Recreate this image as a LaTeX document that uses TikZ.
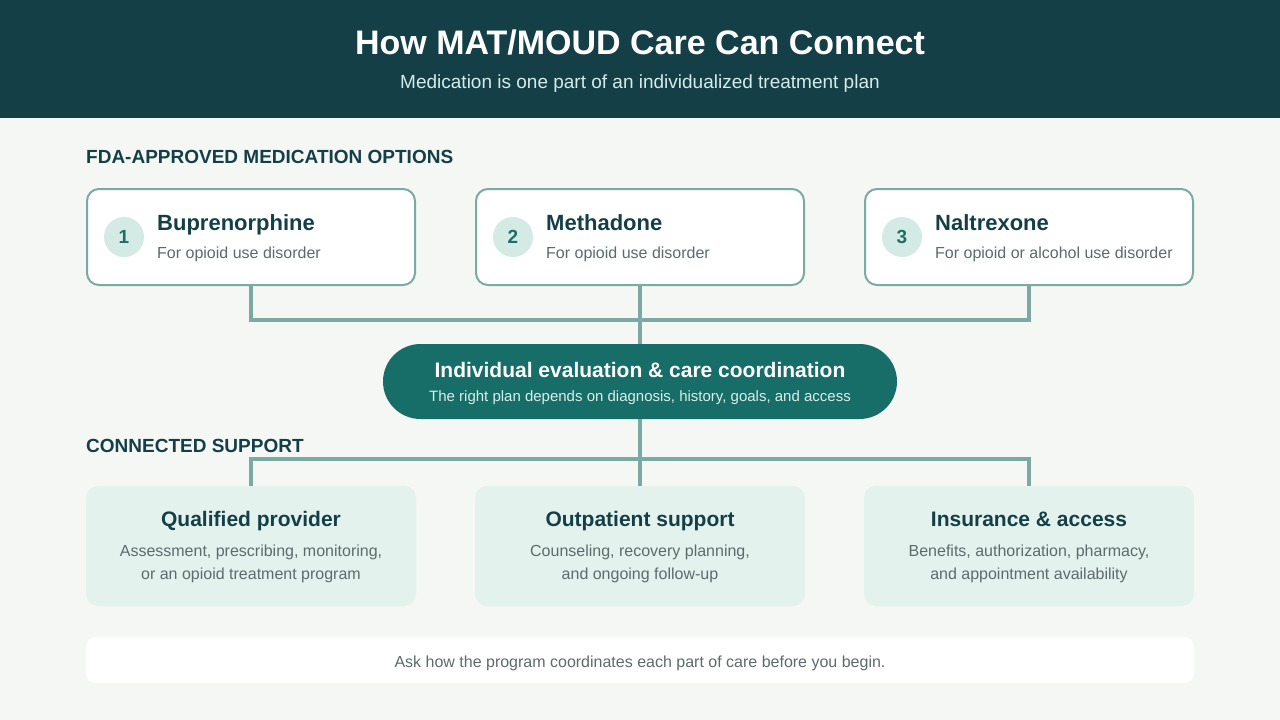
\documentclass[tikz,border=0pt]{standalone}
\usepackage{fontspec}
\setmainfont{Liberation Sans}
\usetikzlibrary{positioning}

\definecolor{headbg}{HTML}{143F47}
\definecolor{pagebg}{HTML}{F4F7F4}
\definecolor{linkcol}{HTML}{7BAAA3}
\definecolor{pillcol}{HTML}{176D68}
\definecolor{dotfill}{HTML}{D4EAE5}
\definecolor{numcol}{HTML}{1E6E68}
\definecolor{darktext}{HTML}{143F47}
\definecolor{graytext}{HTML}{5E6B6B}
\definecolor{suppfill}{HTML}{E4F2EE}
\definecolor{headsub}{HTML}{D5EBE8}
\definecolor{pillsub}{HTML}{D8EEEA}

\tikzset{
  medbox/.style={draw=linkcol, line width=2pt, fill=white, rounded corners=12pt,
    minimum width=328pt, minimum height=96pt, inner sep=0pt},
  suppbox/.style={fill=suppfill, rounded corners=12pt,
    minimum width=330pt, minimum height=120pt, inner sep=0pt},
  numdot/.style={circle, fill=dotfill, minimum size=40pt, inner sep=0pt,
    text=numcol, font=\fontsize{19}{22}\selectfont\bfseries},
  medname/.style={anchor=base west, inner sep=0pt, text=darktext,
    font=\fontsize{22}{26}\selectfont\bfseries},
  medsub/.style={anchor=base west, inner sep=0pt, text=graytext,
    font=\fontsize{16}{19}\selectfont},
  supptitle/.style={anchor=base, inner sep=0pt, text=darktext,
    font=\fontsize{21}{24}\selectfont\bfseries},
  supptext/.style={anchor=base, inner sep=0pt, text=graytext, align=center,
    font=\fontsize{16}{23}\selectfont},
  sectlabel/.style={anchor=base west, inner sep=0pt, text=darktext,
    font=\fontsize{19}{22}\selectfont\bfseries},
  link/.style={draw=linkcol, line width=3.5pt}
}

\begin{document}
\begin{tikzpicture}[x=1pt,y=-1pt]
\useasboundingbox (0,0) rectangle (1280,720);
\fill [pagebg] (0,0) rectangle (1280,720);

% header
\fill [headbg] (0,0) rectangle (1280,118);
\node (title) [anchor=base, inner sep=0pt, text=white, font=\fontsize{34}{40}\selectfont\bfseries]
  at (640,54) {How MAT/MOUD Care Can Connect};
\node (subtitle) [anchor=base, inner sep=0pt, text=headsub, font=\fontsize{19}{22}\selectfont]
  at (640,88) {Medication is one part of an individualized treatment plan};

% medication options
\node (medlabel) [sectlabel] at (86,163) {FDA-APPROVED MEDICATION OPTIONS};

\node (bup) [medbox] at (251,237) {};
\node (met) [medbox] at (640,237) {};
\node (nal) [medbox] at (1029,237) {};

\node (n1) [numdot] at (124,237) {1};
\node (n2) [numdot] at (513,237) {2};
\node (n3) [numdot] at (902,237) {3};

\node (bupname) [medname] at (157,230) {Buprenorphine};
\node (bupsub) [medsub] at (157,258) {For opioid use disorder};
\node (metname) [medname] at (546,230) {Methadone};
\node (metsub) [medsub] at (546,258) {For opioid use disorder};
\node (nalname) [medname] at (935,230) {Naltrexone};
\node (nalsub) [medsub] at (935,258) {For opioid or alcohol use disorder};

% evaluation pill
\node (eval) [fill=pillcol, rounded corners=37.5pt, minimum width=514pt, minimum height=75pt,
  inner sep=0pt] at (640,381.5) {};
\node (evaltitle) [anchor=base, inner sep=0pt, text=white, font=\fontsize{21}{24}\selectfont\bfseries]
  at (640,377) {Individual evaluation \& care coordination};
\node (evalsub) [anchor=base, inner sep=0pt, text=pillsub, font=\fontsize{15}{18}\selectfont]
  at (640,401) {The right plan depends on diagnosis, history, goals, and access};

\coordinate (topjoin) at (640,320);
\draw [link] (bup.south) |- (topjoin);
\draw [link] (nal.south) |- (topjoin);
\draw [link] (met.south) -- (eval.north);

% connected support
\node (supplabel) [sectlabel] at (86,452) {CONNECTED SUPPORT};

\node (prov) [suppbox] at (251,546) {};
\node (outp) [suppbox] at (640,546) {};
\node (ins) [suppbox] at (1029,546) {};

\coordinate (botjoin) at (640,459);
\draw [link] (eval.south) -- (outp.north);
\draw [link] (botjoin) -| (prov.north);
\draw [link] (botjoin) -| (ins.north);

\node (provtitle) [supptitle] at (251,526) {Qualified provider};
\node (provtext) [supptext] at (251,579) {Assessment, prescribing, monitoring,\\or an opioid treatment program};
\node (outptitle) [supptitle] at (640,526) {Outpatient support};
\node (outptext) [supptext] at (640,579) {Counseling, recovery planning,\\and ongoing follow-up};
\node (institle) [supptitle] at (1029,526) {Insurance \& access};
\node (instext) [supptext] at (1029,579) {Benefits, authorization, pharmacy,\\and appointment availability};

% footer note
\node (note) [fill=white, rounded corners=10pt, minimum width=1108pt, minimum height=46pt,
  inner sep=0pt] at (640,660) {};
\node (notetext) [anchor=base, inner sep=0pt, text=graytext, font=\fontsize{16}{18}\selectfont]
  at (640,667) {Ask how the program coordinates each part of care before you begin.};
\end{tikzpicture}
\end{document}
